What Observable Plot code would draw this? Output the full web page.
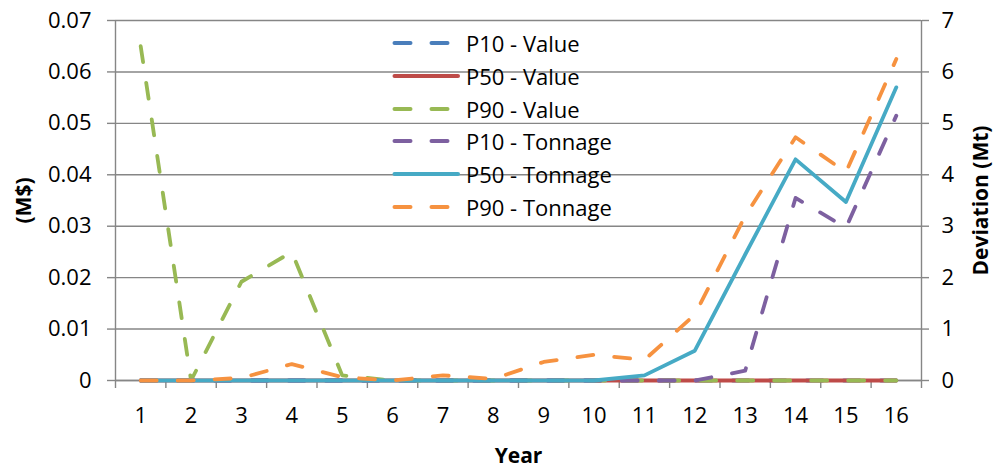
<!DOCTYPE html>
<html>
<head>
<meta charset="utf-8">
<script src="https://cdn.jsdelivr.net/npm/d3@7"></script>
<script src="https://cdn.jsdelivr.net/npm/@observablehq/plot@0.6"></script>
<style>
  html, body { margin: 0; padding: 0; background: #fff; }
  #wrap { position: relative; width: 995px; height: 470px; font-family: "Open Sans", sans-serif; }
  #wrap svg g[aria-label$="axis label"] text { font-weight: 700; font-size: 21px; }
  #legend { position: absolute; left: 390px; top: 27px; font-size: 22px; color: #000; }
  #legend .row { display: flex; align-items: center; height: 32.7px; white-space: nowrap; }
  #legend .row svg { width: 72px; height: 12px; margin-right: 4px; }
</style>
</head>
<body>
<div id="wrap"></div>
<script>
// ---- data ----
const years = [1, 2, 3, 4, 5, 6, 7, 8, 9, 10, 11, 12, 13, 14, 15, 16];
const p10Value = [0, 0, 0, 0, 0, 0, 0, 0, 0, 0, 0, 0, 0, 0, 0, 0];
const p50Value = [0, 0, 0, 0, 0, 0, 0, 0, 0, 0, 0, 0, 0, 0, 0, 0];
const p90Value = [0.065, 0, 0.0192, 0.025, 0.001, 0, 0, 0, 0, 0, 0, 0, 0, 0, 0, 0];
const p10Tonnage = [0, 0, 0, 0, 0, 0, 0, 0, 0, 0, 0, 0, 0.19, 3.55, 2.97, 5.15];
const p50Tonnage = [0, 0, 0, 0, 0, 0, 0, 0, 0, 0, 0.1, 0.58, 2.45, 4.3, 3.47, 5.7];
const p90Tonnage = [0, 0, 0.05, 0.32, 0.065, 0, 0.1, 0.03, 0.36, 0.5, 0.4, 1.28, 3.2, 4.73, 4.05, 6.25];
const leftTicks = [0, 0.01, 0.02, 0.03, 0.04, 0.05, 0.06, 0.07];
const rightTicks = [0, 1, 2, 3, 4, 5, 6, 7];
const seriesNames = ["P10 - Value", "P50 - Value", "P90 - Value", "P10 - Tonnage", "P50 - Tonnage", "P90 - Tonnage"];
const seriesColors = ["#4A7EBB", "#BE4B48", "#98B954", "#7D60A0", "#46AAC5", "#F69240"];
const seriesDashed = [true, false, true, true, false, true];

// ---- build ----
const ratio = leftTicks[leftTicks.length - 1] / rightTicks[rightTicks.length - 1]; // tonnage -> left units
const seriesValues = [p10Value, p50Value, p90Value, p10Tonnage, p50Tonnage, p90Tonnage];
const isTonnage = [false, false, false, true, true, true];
const xDomain = [years[0] - 0.5, years[years.length - 1] + 0.5];
const boundaries = years.map(y => y - 0.5).concat([xDomain[1]]);
const gridColor = "#868686";
const dash = "16,21";

const lineMarks = seriesValues.map((vals, i) => {
  const rows = years.map((yr, j) => ({year: yr, v: isTonnage[i] ? vals[j] * ratio : vals[j]}));
  return Plot.line(rows, {
    x: "year", y: "v",
    stroke: seriesColors[i],
    strokeWidth: 3.8,
    strokeLinecap: "round",
    strokeLinejoin: "round",
    strokeDasharray: seriesDashed[i] ? dash : null
  });
});

const chart = Plot.plot({
  width: 995,
  height: 470,
  marginTop: 20,
  marginBottom: 90,
  marginLeft: 115,
  marginRight: 74,
  style: {fontFamily: "Open Sans", fontSize: "22px", color: "#000", background: "#fff", overflow: "visible"},
  x: {type: "linear", domain: xDomain, axis: null},
  y: {domain: [leftTicks[0], leftTicks[leftTicks.length - 1]], axis: null},
  marks: [
    Plot.gridY(leftTicks, {stroke: gridColor, strokeOpacity: 1, strokeWidth: 1.4}),
    Plot.axisY(leftTicks, {
      anchor: "left", tickSize: 8, tickPadding: 16, stroke: gridColor, strokeWidth: 1.4,
      fontSize: 22, fill: "#000",
      tickFormat: d => d === 0 ? "0" : d.toFixed(2),
      label: "(M$)", labelAnchor: "center", labelOffset: 99, labelArrow: "none"
    }),
    Plot.axisY(rightTicks.map(t => t * ratio), {
      anchor: "right", tickSize: 7, tickPadding: 13, stroke: gridColor, strokeWidth: 1.4,
      fontSize: 22, fill: "#000",
      tickFormat: d => String(Math.round(d / ratio)),
      label: "Deviation (Mt)", labelAnchor: "center", labelOffset: 66, labelArrow: "none"
    }),
    Plot.axisX(years, {
      anchor: "bottom", tickSize: 0, tickPadding: 27, fontSize: 22, fill: "#000",
      tickFormat: d => String(d),
      label: "Year", labelAnchor: "center", labelOffset: 82, labelArrow: "none"
    }),
    Plot.axisX(boundaries, {
      anchor: "bottom", tickSize: 8, stroke: gridColor, strokeWidth: 1.4,
      tickFormat: () => "", label: null
    }),
    Plot.ruleX(xDomain, {stroke: gridColor, strokeWidth: 1.4}),
    Plot.ruleY([leftTicks[0]], {stroke: gridColor, strokeWidth: 1.4}),
    ...lineMarks
  ]
});

const wrap = document.getElementById("wrap");
wrap.appendChild(chart);

// ---- legend (overlay, transparent, like the reference) ----
const legend = document.createElement("div");
legend.id = "legend";
seriesNames.forEach((name, i) => {
  const row = document.createElement("div");
  row.className = "row";
  const dashAttr = seriesDashed[i] ? `stroke-dasharray="${dash}"` : "";
  row.innerHTML = `<svg viewBox="0 0 72 12"><line x1="4.5" y1="6" x2="68" y2="6" stroke="${seriesColors[i]}" stroke-width="4" stroke-linecap="round" ${dashAttr}/></svg><span>${name}</span>`;
  legend.appendChild(row);
});
wrap.appendChild(legend);
</script>
</body>
</html>
